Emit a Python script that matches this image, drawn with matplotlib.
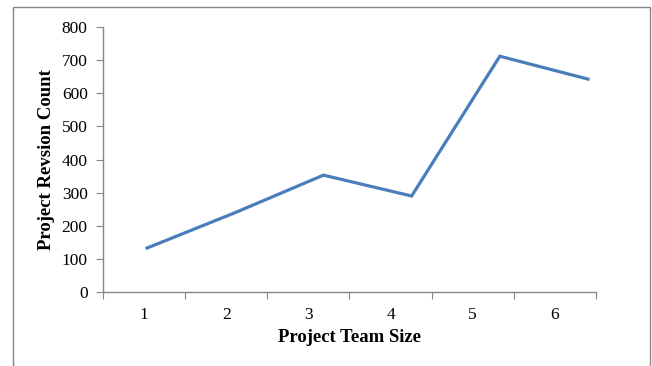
import matplotlib.pyplot as plt
from matplotlib.patches import Rectangle

plt.rcParams['font.family'] = ['Liberation Serif', 'DejaVu Serif']

team_size = [1, 2, 3, 4, 5, 6]
revision_count = [133, 240, 353, 290, 712, 643]
y_ticks = [0, 100, 200, 300, 400, 500, 600, 700, 800]

LINE_COLOR = '#4A7EBB'
AXIS_COLOR = '#868686'

fig = plt.figure(figsize=(6.52, 3.66), dpi=100)

# outer chart border (runs off the bottom edge like the reference)
fig.patches.append(Rectangle((13 / 652, -0.05), (650 - 13) / 652, 1.05 - 7 / 366,
                             transform=fig.transFigure, fill=False,
                             edgecolor=AXIS_COLOR, linewidth=1.0))

ax = fig.add_axes([0.158, 0.202, 0.756, 0.724])

# category axis: labels centred, ticks on category boundaries
ax.set_xlim(0.5, 6.5)
ax.set_xticks([x + 0.5 for x in range(0, 7)])
ax.set_xticklabels([])
ax.set_xticks(team_size, minor=True)
ax.set_xticklabels([str(t) for t in team_size], minor=True)
ax.tick_params(axis='x', which='minor', length=0, labelsize=12.5, pad=11)
ax.tick_params(axis='x', which='major', length=5, direction='out', color=AXIS_COLOR)

ax.set_ylim(0, 800)
ax.set_yticks(y_ticks)
ax.tick_params(axis='y', length=5, direction='out', color=AXIS_COLOR,
               labelsize=12.5, pad=6)

for s in ['top', 'right']:
    ax.spines[s].set_visible(False)
for s in ['left', 'bottom']:
    ax.spines[s].set_color(AXIS_COLOR)
    ax.spines[s].set_linewidth(1.0)

ax.set_xlabel('Project Team Size', fontsize=13.5, fontweight='bold', labelpad=4)
ax.set_ylabel('Project Revsion Count', fontsize=13.5, fontweight='bold', labelpad=5)

# the line in the reference is spread a bit wider than the category slots
ax2 = ax.twiny()
ax2.set_xlim(0.5, 6.09)
ax2.set_ylim(0, 800)
ax2.plot(team_size, revision_count, color=LINE_COLOR, linewidth=2.3,
         solid_joinstyle='miter', clip_on=False)
ax2.axis('off')

fig.savefig('out.png', dpi=100)
